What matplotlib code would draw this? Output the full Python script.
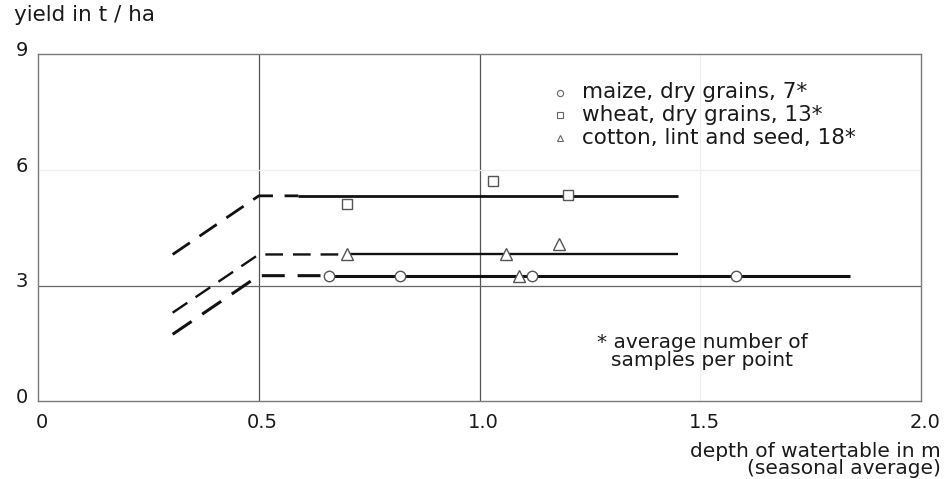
import matplotlib
matplotlib.use("Agg")
import matplotlib.pyplot as plt
from matplotlib.transforms import ScaledTranslation

# ---------------- data ----------------
x_ticks = [0, 0.5, 1.0, 1.5, 2.0]
x_tick_labels = ["0", "0.5", "1.0", "1.5", "2.0"]
y_ticks = [0, 3, 6, 9]
y_tick_labels = ["0", "3", "6", "9"]

maize_x = [0.66, 0.82, 1.12, 1.58]
maize_y = [3.26, 3.26, 3.26, 3.26]
wheat_x = [0.70, 1.03, 1.20]
wheat_y = [5.12, 5.71, 5.35]
cotton_x = [0.70, 1.06, 1.09, 1.18]
cotton_y = [3.81, 3.81, 3.26, 4.09]

# response lines: extrapolated (dashed) part and observed (solid) part
wheat_dash_x = [0.305, 0.50, 0.59]
wheat_dash_y = [3.81, 5.33, 5.33]
wheat_solid_x = [0.59, 1.45]
wheat_solid_y = [5.33, 5.33]

cotton_dash_x = [0.305, 0.50, 0.70]
cotton_dash_y = [2.30, 3.81, 3.81]
cotton_solid_x = [0.70, 1.45]
cotton_solid_y = [3.81, 3.81]

maize_dash_x = [0.305, 0.50, 0.66]
maize_dash_y = [1.74, 3.26, 3.26]
maize_solid_x = [0.66, 1.84]
maize_solid_y = [3.26, 3.26]

legend_labels = ["maize, dry grains, 7*", "wheat, dry grains, 13*",
                 "cotton, lint and seed, 18*"]
legend_markers = ["o", "s", "^"]

# ---------------- figure ----------------
W, H = 948, 479
fig = plt.figure(figsize=(W / 100, H / 100), dpi=100)
ax_l, ax_r, ax_t, ax_b = 38, 921, 54.3, 401.4
ax = fig.add_axes([ax_l / W, 1 - ax_b / H, (ax_r - ax_l) / W, (ax_b - ax_t) / H])
ax.set_xlim(0, 2.0)
ax.set_ylim(0, 9)

for s in ax.spines.values():
    s.set_color("#7a7a7a")
    s.set_linewidth(1.0)

# grid lines
ax.axvline(0.5, color="#555555", lw=0.9, zorder=1)
ax.axvline(1.0, color="#555555", lw=0.9, zorder=1)
ax.axvline(1.5, color="#efefef", lw=0.9, zorder=1)
ax.axhline(3, color="#666666", lw=0.9, zorder=1)
ax.axhline(6, color="#efefef", lw=0.9, zorder=1)

dash = (0, (7.5, 4.2))
for dx, dy, sx, sy, lw in [
    (wheat_dash_x, wheat_dash_y, wheat_solid_x, wheat_solid_y, 2.0),
    (cotton_dash_x, cotton_dash_y, cotton_solid_x, cotton_solid_y, 1.7),
    (maize_dash_x, maize_dash_y, maize_solid_x, maize_solid_y, 2.2),
]:
    ax.plot(dx, dy, color="#111111", lw=lw, linestyle=dash,
            solid_joinstyle="miter", zorder=2)
    ax.plot(sx, sy, color="#111111", lw=lw, solid_capstyle="butt", zorder=2)

mk = dict(linestyle="none", markerfacecolor="white", markeredgecolor="#555555",
          markeredgewidth=1.0, zorder=3)
ax.plot(maize_x, maize_y, marker="o", markersize=7.5, **mk)
ax.plot(wheat_x, wheat_y, marker="s", markersize=7.0, **mk)
ax.plot(cotton_x, cotton_y, marker="^", markersize=8.0, **mk)

# ticks
ax.set_xticks(x_ticks)
ax.set_xticklabels(x_tick_labels)
ax.set_yticks(y_ticks)
ax.set_yticklabels(y_tick_labels)
ax.tick_params(axis="both", length=0, labelsize=14, colors="#1a1a1a")
ax.tick_params(axis="x", pad=8)
ax.tick_params(axis="y", pad=7)
for lab in ax.get_yticklabels():
    lab.set_transform(lab.get_transform() + ScaledTranslation(0, 0.06, fig.dpi_scale_trans))
for lab in ax.get_xticklabels():
    lab.set_transform(lab.get_transform() + ScaledTranslation(0.04, 0, fig.dpi_scale_trans))


def ax_frac(px, py):
    return (px - ax_l) / (ax_r - ax_l), (ax_b - py) / (ax_b - ax_t)


# legend (manual)
rows_py = [92.5, 115, 137.5]
for lab, m, py in zip(legend_labels, legend_markers, rows_py):
    mx, my = ax_frac(560, py)
    tx, ty = ax_frac(582, py)
    ax.plot([mx], [my], marker=m, markersize=4.5, linestyle="none",
            markerfacecolor="white", markeredgecolor="#666666",
            markeredgewidth=0.8, transform=ax.transAxes, clip_on=False, zorder=4)
    ax.text(tx, ty, lab, transform=ax.transAxes, fontsize=15.5, color="#1a1a1a",
            ha="left", va="center")

# note
nx, ny = ax_frac(702, 351.5)
ax.text(nx, ny, "* average number of\nsamples per point", transform=ax.transAxes,
        fontsize=14.5, color="#1a1a1a", ha="center", va="center",
        multialignment="center", linespacing=0.88)

# axis titles
fig.text(14 / W, 1 - 15 / H, "yield in t / ha", fontsize=15.5, color="#1a1a1a",
         ha="left", va="center")
fig.text(941 / W, 1 - 460 / H, "depth of watertable in m\n(seasonal average)",
         fontsize=14.5, color="#1a1a1a", ha="right", va="center",
         multialignment="right", linespacing=0.88)

fig.savefig("out.png", dpi=100)
